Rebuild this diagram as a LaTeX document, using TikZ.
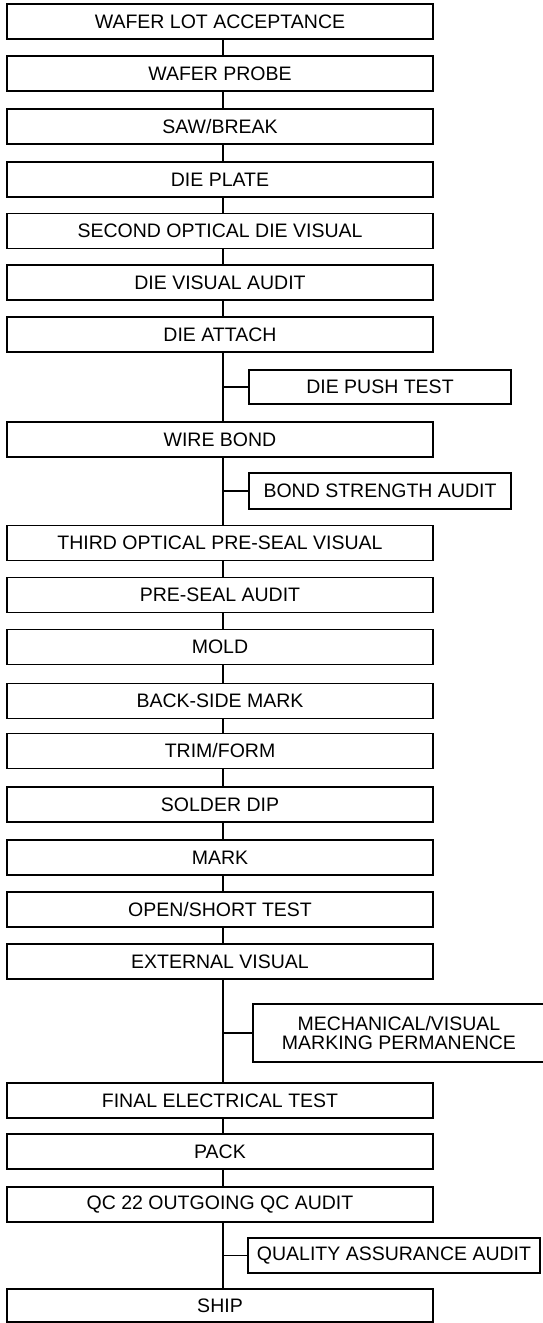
\documentclass[tikz,border=0pt]{standalone}
\usepackage{fontspec}
\setmainfont{Liberation Sans}
\begin{document}
\begin{tikzpicture}[x=1pt,y=-1pt,
  box/.style={draw=black, line width=1.5pt, minimum width=426pt, minimum height=35pt,
    inner sep=0pt, font=\fontsize{19.5}{19.5}\selectfont, align=center},
  sidebox/.style={box, minimum width=262pt},
  link/.style={line width=1.5pt}]
\fill[white] (0,0) rectangle (542,1323);
\useasboundingbox (0,0) rectangle (542,1323);
\coordinate (spine) at (223,0);
\node[box] (m1)  at (220,21.5)  {WAFER LOT ACCEPTANCE};
\node[box] (m2)  at (220,73.5)  {WAFER PROBE};
\node[box] (m3)  at (220,126.5) {SAW/BREAK};
\node[box] (m4)  at (220,179.5) {DIE PLATE};
\node[box] (m5)  at (220,231)   {SECOND OPTICAL DIE VISUAL};
\node[box] (m6)  at (220,282.5) {DIE VISUAL AUDIT};
\node[box] (m7)  at (220,334.5) {DIE ATTACH};
\node[box] (m8)  at (220,439.5) {WIRE BOND};
\node[box] (m9)  at (220,543)   {THIRD OPTICAL PRE-SEAL VISUAL};
\node[box] (m10) at (220,595)   {PRE-SEAL AUDIT};
\node[box] (m11) at (220,647)   {MOLD};
\node[box] (m12) at (220,701)   {BACK-SIDE MARK};
\node[box] (m13) at (220,751)   {TRIM/FORM};
\node[box] (m14) at (220,804.5) {SOLDER DIP};
\node[box] (m15) at (220,857.5) {MARK};
\node[box] (m16) at (220,909.5) {OPEN/SHORT TEST};
\node[box] (m17) at (220,961.5) {EXTERNAL VISUAL};
\node[box] (m18) at (220,1100.5){FINAL ELECTRICAL TEST};
\node[box] (m19) at (220,1151.5){PACK};
\node[box] (m20) at (220,1204.5){QC 22 OUTGOING QC AUDIT};
\node[box, minimum height=33pt] (m21) at (220,1305.5){SHIP};
\node[sidebox, minimum height=34pt] (s1) at (380,387) {DIE PUSH TEST};
\node[sidebox, minimum height=36pt] (s2) at (380,491) {BOND STRENGTH AUDIT};
\node[sidebox, minimum width=292pt, minimum height=58pt] (s3) at (399,1033) {MECHANICAL/VISUAL\\MARKING PERMANENCE};
\node[sidebox, minimum width=292pt, minimum height=35pt] (s4) at (394,1255.5) {QUALITY ASSURANCE AUDIT};
\foreach \a/\b in {m1/m2,m2/m3,m3/m4,m4/m5,m5/m6,m6/m7,m7/m8,m8/m9,m9/m10,m10/m11,
  m11/m12,m12/m13,m13/m14,m14/m15,m15/m16,m16/m17,m17/m18,m18/m19,m19/m20,m20/m21}
  \draw[link] (\a.south -| spine) -- (\b.north -| spine);
\foreach \s in {s1,s2,s3,s4}
  \draw[link] (\s.west -| spine) -- (\s.west);
\end{tikzpicture}
\end{document}
